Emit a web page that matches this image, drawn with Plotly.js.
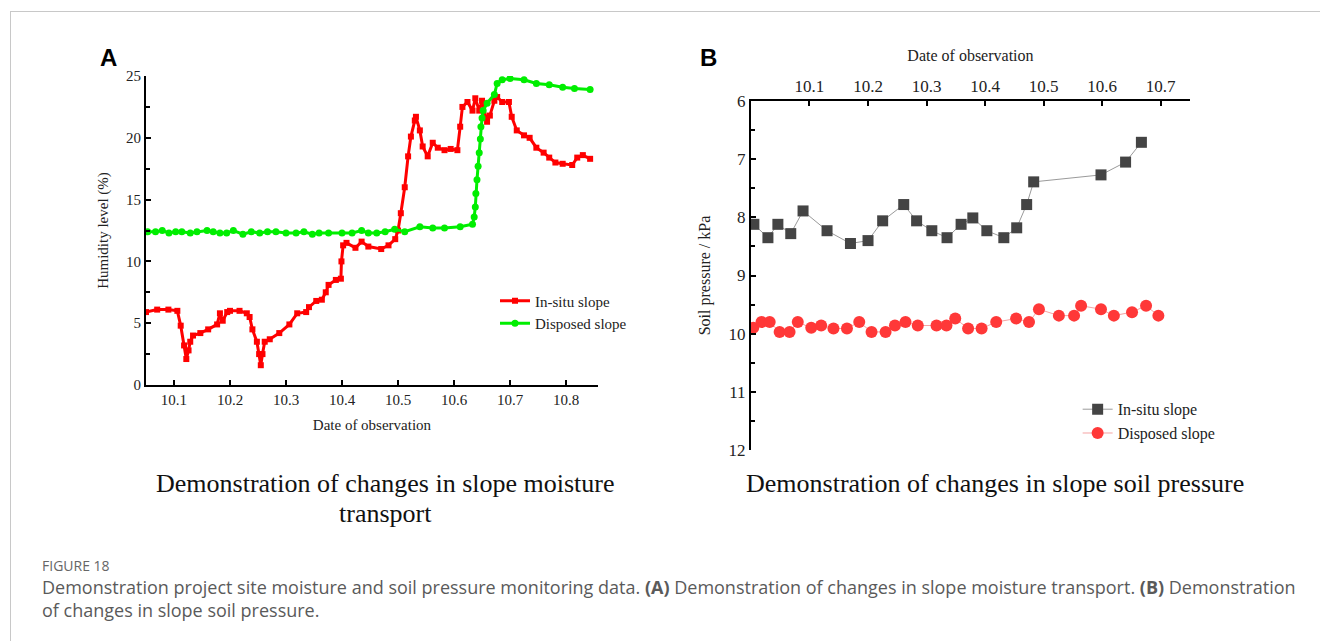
<!DOCTYPE html>
<html>
<head>
<meta charset="utf-8">
<script src="https://cdn.plot.ly/plotly-3.0.1.min.js"></script>
<style>
html,body{margin:0;padding:0;background:#fff;}
#chart{width:1320px;height:641px;}
#frame{position:absolute;left:10px;top:11px;width:1320px;height:640px;border-left:1px solid #c8c8c8;border-top:1px solid #c8c8c8;pointer-events:none;}
</style>
</head>
<body>
<div id="chart"></div>
<div id="frame"></div>
<script>
// Panel A: humidity level (%)
const aInsituX = [10.050,10.070,10.090,10.106,10.112,10.118,10.122,10.126,10.129,10.134,10.147,10.161,10.177,10.182,10.187,10.195,10.200,10.217,10.230,10.235,10.240,10.248,10.252,10.255,10.258,10.262,10.271,10.288,10.306,10.320,10.336,10.341,10.354,10.364,10.371,10.376,10.389,10.398,10.399,10.402,10.408,10.424,10.435,10.447,10.470,10.483,10.495,10.500,10.505,10.512,10.518,10.523,10.530,10.532,10.539,10.544,10.553,10.562,10.571,10.583,10.594,10.606,10.611,10.615,10.624,10.633,10.638,10.645,10.650,10.659,10.664,10.672,10.677,10.686,10.698,10.703,10.712,10.725,10.735,10.747,10.760,10.770,10.781,10.794,10.811,10.820,10.830,10.843];
const aInsituY = [5.9,6.1,6.1,6.0,4.8,3.2,2.1,2.8,3.5,4.0,4.2,4.5,4.9,5.8,5.2,5.9,6.0,6.0,5.8,5.5,4.5,3.5,2.5,1.6,2.5,3.5,3.7,4.2,4.9,5.8,5.9,6.3,6.8,6.9,7.5,8.1,8.5,8.6,10.0,11.3,11.5,11.1,11.6,11.2,11.0,11.3,11.8,12.5,13.9,16.0,18.5,20.1,21.4,21.7,20.6,19.3,18.5,19.6,19.2,19.0,19.1,19.0,20.9,22.5,22.9,22.2,23.2,22.2,23.0,21.3,21.8,23.0,23.3,22.9,22.9,21.7,20.6,20.2,20.0,19.2,18.8,18.4,18.0,17.9,17.8,18.4,18.6,18.3];
const aDisposedX = [10.053,10.067,10.079,10.091,10.103,10.114,10.129,10.141,10.159,10.170,10.182,10.194,10.206,10.223,10.238,10.253,10.267,10.282,10.300,10.318,10.332,10.347,10.359,10.376,10.400,10.418,10.435,10.447,10.462,10.477,10.494,10.512,10.539,10.562,10.583,10.611,10.633,10.636,10.638,10.639,10.641,10.643,10.645,10.647,10.648,10.650,10.652,10.659,10.672,10.677,10.686,10.700,10.725,10.747,10.770,10.794,10.815,10.843];
const aDisposedY = [12.4,12.4,12.5,12.3,12.4,12.4,12.3,12.4,12.5,12.4,12.3,12.3,12.5,12.2,12.4,12.3,12.4,12.4,12.3,12.3,12.4,12.2,12.3,12.3,12.3,12.3,12.5,12.3,12.3,12.4,12.6,12.4,12.8,12.7,12.7,12.8,13.0,13.6,14.4,15.5,16.6,17.7,18.8,19.9,20.9,21.6,22.2,22.8,23.5,24.4,24.7,24.8,24.7,24.4,24.3,24.1,24.0,23.9];

// Panel B: soil pressure / kPa
const bInsituX = [10.005,10.029,10.046,10.068,10.089,10.130,10.170,10.200,10.225,10.261,10.283,10.309,10.335,10.359,10.379,10.403,10.432,10.454,10.471,10.483,10.598,10.640,10.667];
const bInsituY = [8.12,8.35,8.12,8.28,7.89,8.23,8.45,8.40,8.06,7.78,8.06,8.23,8.35,8.12,8.01,8.23,8.35,8.18,7.78,7.39,7.27,7.05,6.71];
const bDisposedX = [10.004,10.018,10.032,10.049,10.066,10.080,10.103,10.120,10.141,10.164,10.185,10.206,10.230,10.246,10.264,10.285,10.317,10.334,10.349,10.371,10.394,10.419,10.453,10.475,10.492,10.526,10.552,10.564,10.598,10.620,10.651,10.675,10.696];
const bDisposedY = [9.90,9.80,9.80,9.97,9.97,9.80,9.90,9.86,9.91,9.91,9.80,9.97,9.97,9.86,9.80,9.86,9.86,9.86,9.74,9.91,9.91,9.80,9.74,9.80,9.58,9.69,9.69,9.52,9.58,9.69,9.63,9.52,9.69];

const seriesNames = ['In-situ slope','Disposed slope'];
const panelTitleA = ['Demonstration of changes in slope moisture','transport'];
const panelTitleB = 'Demonstration of changes in slope soil pressure';
const axisTitles = {aX:'Date of observation', aY:'Humidity level (%)', bX:'Date of observation', bY:'Soil pressure / kPa'};
const captionHead = 'FIGURE 18';
const captionText = 'Demonstration project site moisture and soil pressure monitoring data. <b>(A)</b> Demonstration of changes in slope moisture transport. <b>(B)</b> Demonstration<br>of changes in slope soil pressure.';

const serif = 'Liberation Serif, Times New Roman, serif';

const traces = [
  {x:aInsituX, y:aInsituY, name:seriesNames[0], type:'scatter', mode:'lines+markers', xaxis:'x', yaxis:'y',
   line:{color:'#ff0000', width:3}, marker:{symbol:'square', size:6, color:'#ff0000'}, legend:'legend'},
  {x:aDisposedX, y:aDisposedY, name:seriesNames[1], type:'scatter', mode:'lines+markers', xaxis:'x', yaxis:'y',
   line:{color:'#00ee00', width:3}, marker:{symbol:'circle', size:7, color:'#00ee00'}, legend:'legend'},
  {x:bInsituX, y:bInsituY, name:seriesNames[0], type:'scatter', mode:'lines+markers', xaxis:'x2', yaxis:'y2',
   line:{color:'#9a9a9a', width:1}, marker:{symbol:'square', size:11, color:'#444444'}, legend:'legend2'},
  {x:bDisposedX, y:bDisposedY, name:seriesNames[1], type:'scatter', mode:'lines+markers', xaxis:'x2', yaxis:'y2',
   line:{color:'#f5a3a3', width:1}, marker:{symbol:'circle', size:12, color:'#ff3838'}, legend:'legend2'}
];

const tickFont = {family:serif, size:15, color:'#222'};
const layout = {
  width:1320, height:641,
  margin:{l:0,r:0,t:0,b:0},
  paper_bgcolor:'#fff', plot_bgcolor:'#fff',
  showlegend:true,
  font:{family:serif, color:'#222'},
  xaxis:{domain:[0.1106,0.4530], anchor:'y', range:[10.05,10.857], tick0:10.1, dtick:0.1, tickformat:'.1f',
    showline:true, linecolor:'#000', linewidth:2, ticks:'inside', ticklen:5, tickwidth:2, tickcolor:'#000',
    showgrid:false, zeroline:false, tickfont:tickFont,
    title:{text:axisTitles.aX, font:{family:serif, size:15, color:'#222'}, standoff:13}},
  yaxis:{domain:[0.3994,0.8814], anchor:'x', range:[0,25], dtick:5,
    showline:true, linecolor:'#000', linewidth:2, ticks:'inside', ticklen:5, tickwidth:2, tickcolor:'#000',
    minor:{dtick:2.5, ticks:'inside', ticklen:4, tickwidth:2, tickcolor:'#000'},
    showgrid:false, zeroline:false, tickfont:tickFont,
    title:{text:axisTitles.aY, font:{family:serif, size:15, color:'#222'}, standoff:14}},
  xaxis2:{domain:[0.5689,0.9015], anchor:'y2', side:'top', range:[10.0,10.75], tickvals:[10.1,10.2,10.3,10.4,10.5,10.6,10.7], tickformat:'.1f',
    showline:true, linecolor:'#000', linewidth:2, ticks:'inside', ticklen:5, tickwidth:2, tickcolor:'#000',
    showgrid:false, zeroline:false, tickfont:{family:serif, size:17, color:'#222'},
    title:{text:axisTitles.bX, font:{family:serif, size:16, color:'#222'}, standoff:12}},
  yaxis2:{domain:[0.2980,0.8424], anchor:'x2', range:[12,6], dtick:1,
    showline:true, linecolor:'#000', linewidth:2, ticks:'inside', ticklen:5, tickwidth:2, tickcolor:'#000',
    minor:{dtick:0.5, ticks:'inside', ticklen:4, tickwidth:2, tickcolor:'#000'},
    showgrid:false, zeroline:false, tickfont:{family:serif, size:17, color:'#222'},
    title:{text:axisTitles.bY, font:{family:serif, size:16, color:'#222'}, standoff:14}},
  legend:{x:0.375, y:0.556, xanchor:'left', yanchor:'top', bgcolor:'rgba(0,0,0,0)', font:{family:serif, size:15, color:'#222'},
    tracegroupgap:0},
  legend2:{x:0.8164, y:0.388, xanchor:'left', yanchor:'top', bgcolor:'rgba(0,0,0,0)', font:{family:serif, size:16, color:'#222'},
    tracegroupgap:0},
  annotations:[
    {text:'<b>A</b>', x:108/1320, y:1-57/641, xref:'paper', yref:'paper', showarrow:false, xanchor:'center', yanchor:'middle',
     font:{family:'Liberation Sans, Arial, sans-serif', size:24, color:'#000'}},
    {text:'<b>B</b>', x:708/1320, y:1-57/641, xref:'paper', yref:'paper', showarrow:false, xanchor:'center', yanchor:'middle',
     font:{family:'Liberation Sans, Arial, sans-serif', size:24, color:'#000'}},
    {text:panelTitleA[0], x:385/1320, y:1-483/641, xref:'paper', yref:'paper', showarrow:false, xanchor:'center', yanchor:'middle',
     font:{family:serif, size:26, color:'#111'}, borderpad:0},
    {text:panelTitleA[1], x:385/1320, y:1-513/641, xref:'paper', yref:'paper', showarrow:false, xanchor:'center', yanchor:'middle',
     font:{family:serif, size:26, color:'#111'}, borderpad:0},
    {text:panelTitleB, x:995/1320, y:1-483/641, xref:'paper', yref:'paper', showarrow:false, xanchor:'center', yanchor:'middle',
     font:{family:serif, size:26, color:'#111'}, borderpad:0},
    {text:captionHead, x:41/1320, y:1-565/641, xref:'paper', yref:'paper', showarrow:false, xanchor:'left', yanchor:'middle',
     font:{family:'Open Sans, Noto Sans, sans-serif', size:14, color:'#666'}, borderpad:0},
    {text:captionText, x:41/1320, y:1-574/641, xref:'paper', yref:'paper', showarrow:false, xanchor:'left', yanchor:'top', align:'left',
     font:{family:'Open Sans, Noto Sans, sans-serif', size:18, color:'#5a5a5a'}, borderpad:0}
  ]
};

Plotly.newPlot('chart', traces, layout, {staticPlot:true, displayModeBar:false});
</script>
</body>
</html>
